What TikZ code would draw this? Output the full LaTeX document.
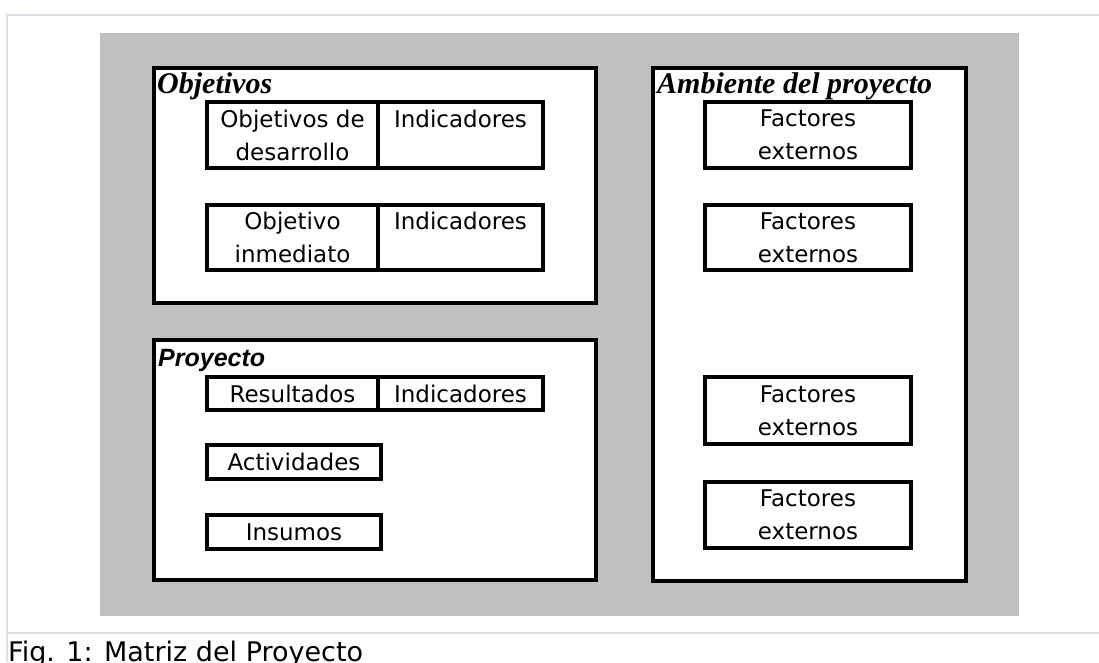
\documentclass[tikz,border=0pt]{standalone}
\usepackage{fontspec}
\setmainfont{Liberation Serif}
\newfontfamily\boxfont{DejaVu Sans}
\newfontfamily\projfont{Liberation Sans}
\usetikzlibrary{positioning}
\definecolor{panelgray}{RGB}{192,192,192}
\definecolor{rulegray}{RGB}{221,224,230}
\tikzset{node distance=37pt,
  frame/.style={draw, line width=4pt, inner sep=0pt, outer sep=0pt, fill=white},
  cell/.style={draw, line width=3.5pt, inner sep=0pt, outer sep=0pt, fill=white,
    align=center, font=\boxfont\fontsize{23}{33}\selectfont},
  heading/.style={inner sep=0pt, anchor=base west,
    font=\bfseries\itshape\fontsize{30}{32}\selectfont}}

\begin{document}
\begin{tikzpicture}[x=1pt, y=-1pt]
\useasboundingbox (0,0) rectangle (1099,662);
% page rules and caption
\draw[rulegray, line width=2pt] (1099,15) -- (7,15) -- (7,662);
\draw[rulegray, line width=2pt] (7,633) -- (1099,633);
\node[anchor=base west, inner sep=0pt, font=\boxfont\fontsize{27}{30}\selectfont] (cap) at (8,661) {Fig. 1: Matriz del Proyecto};
\fill[panelgray] (100,33) rectangle (1019,616);

% the three frames
\node[frame, minimum width=442pt, minimum height=235pt, anchor=north west] (obj) at (154,68) {};
\node[frame, minimum width=442pt, minimum height=240pt, anchor=north west] (pro) at (154,340) {};
\node[frame, minimum width=313pt, minimum height=513pt, anchor=north west] (amb) at (653,68) {};
\node[heading] (objt) at (157,93) {Objetivos};
\node[heading] (ambt) at (657,93) {Ambiente del proyecto};
\node[heading, font=\projfont\bfseries\itshape\fontsize{25}{27}\selectfont] (prot) at (158,366) {Proyecto};

% objetivos
\node[cell, minimum width=171pt, minimum height=66pt, anchor=north west] (dev) at (207,102) {Objetivos de\\desarrollo};
\node[cell, minimum width=165pt, minimum height=66pt, right=0pt of dev.north east, anchor=north west] (ind1) {Indicadores\\\mbox{}};
\node[cell, minimum width=171pt, minimum height=65pt, below=37pt of dev] (inm) {Objetivo\\inmediato};
\node[cell, minimum width=165pt, minimum height=65pt, right=0pt of inm.north east, anchor=north west] (ind2) {Indicadores\\\mbox{}};

% proyecto
\node[cell, minimum width=171pt, minimum height=33pt, anchor=north west] (res) at (207,377) {Resultados};
\node[cell, minimum width=165pt, minimum height=33pt, right=0pt of res.north east, anchor=north west] (ind3) {Indicadores};
\node[cell, minimum width=174pt, minimum height=34pt, below=35pt of res.south west, anchor=north west] (act) {Actividades};
\node[cell, minimum width=174pt, minimum height=34pt, below=36pt of act.south west, anchor=north west] (ins) {Insumos};

% ambiente del proyecto
\node[cell, minimum width=206pt, minimum height=66pt, anchor=north west] (fac1) at (705,102) {Factores\\externos};
\node[cell, minimum width=206pt, minimum height=65pt, below=37pt of fac1] (fac2) {Factores\\externos};
\node[cell, minimum width=206pt, minimum height=67pt, below=107pt of fac2] (fac3) {Factores\\externos};
\node[cell, minimum width=206pt, minimum height=66pt, below=38pt of fac3] (fac4) {Factores\\externos};
\end{tikzpicture}
\end{document}
